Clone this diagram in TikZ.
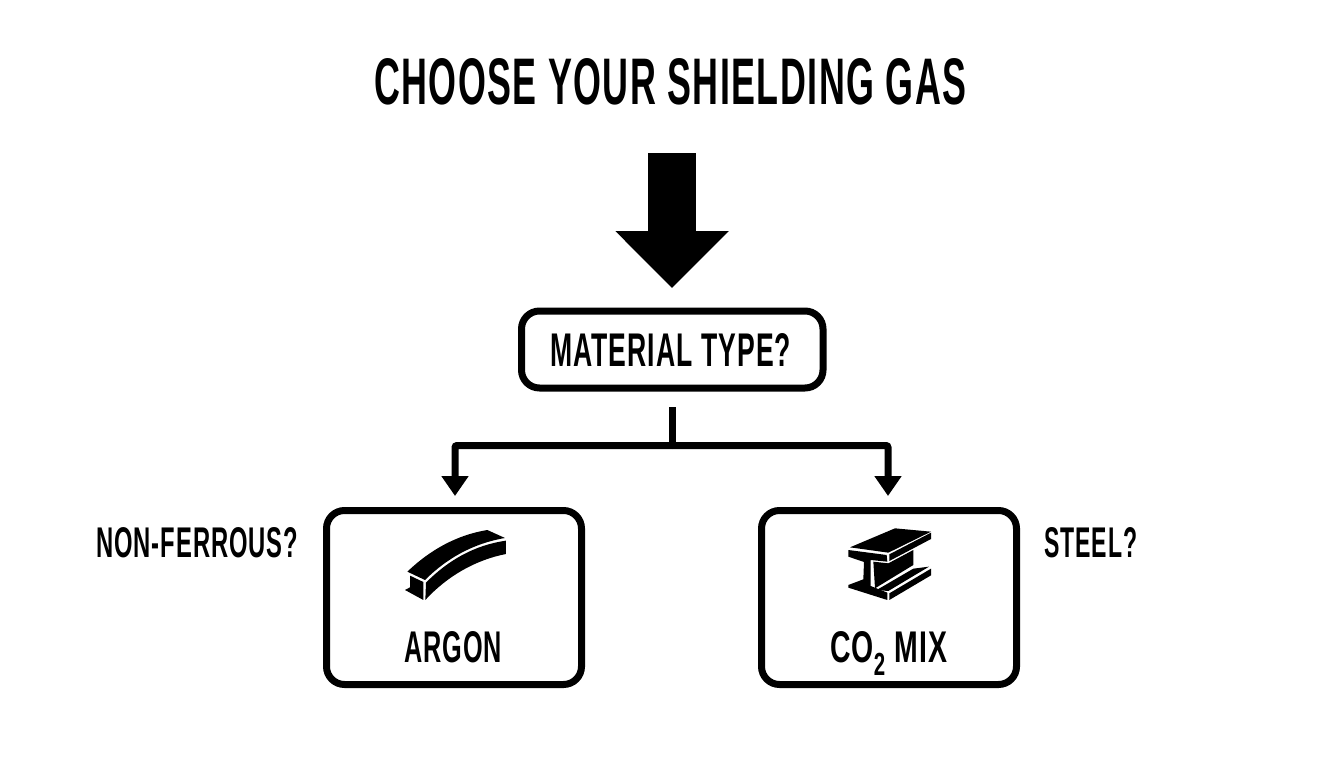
\documentclass[tikz,border=0pt]{standalone}
\usepackage{fontspec}
\usepackage{graphicx}
\setmainfont{Liberation Sans}[BoldFont={* Bold}]
\usetikzlibrary{arrows.meta,positioning}
\newcommand{\lab}[3]{\resizebox{#1pt}{#2pt}{\bfseries\addfontfeature{LetterSpace=4}#3}}
\tikzset{
  box/.style={draw=black,line width=7pt,rounded corners=18pt,fill=white,inner sep=0pt,anchor=north west},
  lbl/.style={inner sep=0pt,text=black,anchor=north west},
  conn/.style={draw=black,line width=7pt,rounded corners=2pt,-{Triangle[length=20pt,width=26pt]}},
  bigarrow/.style={draw=black,line width=48pt,-{Triangle[length=57pt,width=110pt]}},
  stem/.style={draw=black,line width=7pt},
  ink/.style={fill=black,draw=none}
}
\begin{document}
\begin{tikzpicture}[x=1pt,y=-1pt]
\useasboundingbox (0,0) rectangle (1344,768);
\fill[white] (0,0) rectangle (1344,768);
\node[lbl] (title) at (374,58) {\lab{592}{46}{CHOOSE YOUR SHIELDING GAS}};
\coordinate (bigtop) at (672,153);
\coordinate (bigtip) at (672,288);
\draw[bigarrow] (bigtop) -- (bigtip);
\node[box,minimum width=301.5pt,minimum height=77pt] (material) at (518,307.5) {};
\node[lbl] (materiallab) at (550,333) {\lab{241}{33}{MATERIAL TYPE?}};
\node[box,minimum width=255pt,minimum height=174pt] (argon) at (323,507) {};
\node[box,minimum width=255pt,minimum height=174pt] (co2) at (758,507) {};
\node[lbl] (argonlab) at (404,631) {\lab{98}{31}{ARGON}};
\node[lbl] (co2lab) at (830,631) {\lab{117}{31}{CO\raisebox{-0.3em}{\scalebox{0.72}{2}} MIX}};
\node[lbl] (nonf) at (96,527) {\lab{202}{30}{NON-FERROUS?}};
\node[lbl] (steel) at (1044,527) {\lab{93}{30}{STEEL?}};
\coordinate (stemtop) at (672,407);
\coordinate (split) at (672,445.5);
\coordinate (ltip) at (455,496);
\coordinate (rtip) at (888,496);
\draw[stem] (stemtop) -- (split);
\draw[conn] (split) -| (ltip);
\draw[conn] (split) -| (rtip);
% curved bar icon
\begin{scope}[x=0.3333pt,y=-0.3333pt,xshift=390pt,yshift=-510pt]
\fill[ink] (52,185) .. controls (120,120) and (200,75) .. (292,60) -- (345,84) .. controls (250,100) and (170,145) .. (105,210) -- cycle;
\fill[ink] (108,218) .. controls (175,150) and (255,105) .. (348,92) -- (348,132) .. controls (255,150) and (170,200) .. (106,270) -- cycle;
\fill[ink] (60,197) -- (100,216) -- (100,270) -- (45,240) -- (60,232) -- cycle;
\end{scope}
% steel beam icon
\begin{scope}[x=0.3333pt,y=-0.3333pt,xshift=830pt,yshift=-510pt]
\fill[ink] (60,112) -- (195,55) -- (303,65) -- (175,128) -- cycle;
\fill[ink] (178,133) -- (303,68) -- (303,87) -- (178,153) -- cycle;
\fill[ink] (130,155) -- (175,160) -- (250,120) -- (250,165) -- (135,235) -- cycle;
\fill[ink] (140,240) -- (250,176) -- (297,170) -- (175,243) -- cycle;
\fill[ink] (178,250) -- (303,176) -- (303,196) -- (178,270) -- cycle;
\fill[ink] (55,120) -- (170,135) -- (172,155) -- (122,150) -- (122,228) -- (172,248) -- (172,270) -- (55,233) -- (55,225) -- (100,208) -- (102,156) -- (55,140) -- cycle;
\end{scope}
\end{tikzpicture}
\end{document}
